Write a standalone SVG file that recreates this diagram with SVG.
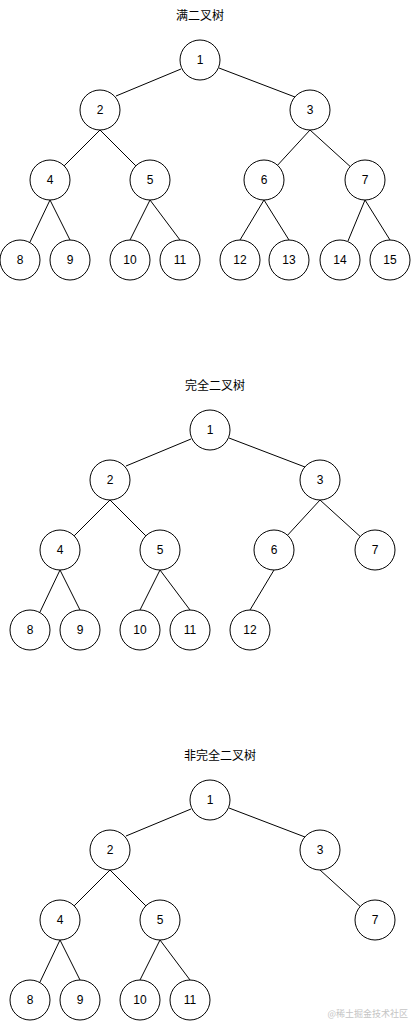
<svg xmlns="http://www.w3.org/2000/svg" width="411" height="1021" viewBox="0 0 411 1021">
<style>
.n circle{fill:#fff;stroke:#000;stroke-width:1}
.n text{font-family:"Liberation Sans",Arial,sans-serif;font-size:12px;text-anchor:middle;fill:#000}
.e line{stroke:#000;stroke-width:1}
.t{font-family:"Noto Sans CJK SC","Noto Sans",sans-serif;font-size:12px;fill:#000}
.w{font-family:"Noto Sans CJK SC",sans-serif;font-size:9px;fill:#c4c4c4;text-anchor:end}
</style>
<rect width="411" height="1021" fill="#fff"/>
<text class="t" x="176" y="19.5">满二叉树</text>
<text class="t" x="185" y="389.5">完全二叉树</text>
<text class="t" x="184" y="759.5">非完全二叉树</text>

<g id="connectors" class="e">
  <g id="t1-edges">
    <line x1="181" y1="69" x2="116" y2="96"/>
    <line x1="219" y1="68" x2="295" y2="97"/>
    <line x1="100" y1="130" x2="64.1" y2="165.9"/>
    <line x1="100" y1="130" x2="135.9" y2="165.9"/>
    <line x1="310" y1="130" x2="277.5" y2="165.3"/>
    <line x1="310" y1="130" x2="350.2" y2="166.5"/>
    <line x1="50" y1="200" x2="30" y2="242"/>
    <line x1="50" y1="200" x2="70" y2="240"/>
    <line x1="150" y1="200" x2="130" y2="240"/>
    <line x1="150" y1="200" x2="180" y2="240"/>
    <line x1="264" y1="200" x2="240" y2="240"/>
    <line x1="264" y1="200" x2="289" y2="240"/>
    <line x1="365" y1="200" x2="348" y2="241"/>
    <line x1="365" y1="200" x2="390" y2="240"/>
  </g>
  <g id="t2-edges" transform="translate(10,370)">
    <line x1="181" y1="69" x2="116" y2="96"/>
    <line x1="219" y1="68" x2="295" y2="97"/>
    <line x1="100" y1="130" x2="64.1" y2="165.9"/>
    <line x1="100" y1="130" x2="135.9" y2="165.9"/>
    <line x1="310" y1="130" x2="277.5" y2="165.3"/>
    <line x1="310" y1="130" x2="350.2" y2="166.5"/>
    <line x1="50" y1="200" x2="30" y2="242"/>
    <line x1="50" y1="200" x2="70" y2="240"/>
    <line x1="150" y1="200" x2="130" y2="240"/>
    <line x1="150" y1="200" x2="180" y2="240"/>
    <line x1="264" y1="200" x2="240" y2="240"/>
  </g>
  <g id="t3-edges" transform="translate(10,740)">
    <line x1="181" y1="69" x2="116" y2="96"/>
    <line x1="219" y1="68" x2="295" y2="97"/>
    <line x1="100" y1="130" x2="64.1" y2="165.9"/>
    <line x1="100" y1="130" x2="135.9" y2="165.9"/>
    <line x1="310" y1="130" x2="350.2" y2="166.5"/>
    <line x1="50" y1="200" x2="30" y2="242"/>
    <line x1="50" y1="200" x2="70" y2="240"/>
    <line x1="150" y1="200" x2="130" y2="240"/>
    <line x1="150" y1="200" x2="180" y2="240"/>
  </g>
</g>

<g id="tree1">
  <g id="t1-n1" class="n"><circle cx="200" cy="60" r="20"/><text x="200" y="64">1</text></g>
  <g id="t1-n2" class="n"><circle cx="100" cy="110" r="20"/><text x="100" y="114">2</text></g>
  <g id="t1-n3" class="n"><circle cx="310" cy="110" r="20"/><text x="310" y="114">3</text></g>
  <g id="t1-n4" class="n"><circle cx="50" cy="180" r="20"/><text x="50" y="184">4</text></g>
  <g id="t1-n5" class="n"><circle cx="150" cy="180" r="20"/><text x="150" y="184">5</text></g>
  <g id="t1-n6" class="n"><circle cx="264" cy="180" r="20"/><text x="264" y="184">6</text></g>
  <g id="t1-n7" class="n"><circle cx="365" cy="180" r="20"/><text x="365" y="184">7</text></g>
  <g id="t1-n8" class="n"><circle cx="20" cy="260" r="20"/><text x="20" y="264">8</text></g>
  <g id="t1-n9" class="n"><circle cx="70" cy="260" r="20"/><text x="70" y="264">9</text></g>
  <g id="t1-n10" class="n"><circle cx="130" cy="260" r="20"/><text x="130" y="264">10</text></g>
  <g id="t1-n11" class="n"><circle cx="180" cy="260" r="20"/><text x="180" y="264">11</text></g>
  <g id="t1-n12" class="n"><circle cx="240" cy="260" r="20"/><text x="240" y="264">12</text></g>
  <g id="t1-n13" class="n"><circle cx="289" cy="260" r="20"/><text x="289" y="264">13</text></g>
  <g id="t1-n14" class="n"><circle cx="340" cy="260" r="20"/><text x="340" y="264">14</text></g>
  <g id="t1-n15" class="n"><circle cx="390" cy="260" r="20"/><text x="390" y="264">15</text></g>
</g>

<g id="tree2" transform="translate(10,370)">
  <g id="t2-n1" class="n"><circle cx="200" cy="60" r="20"/><text x="200" y="64">1</text></g>
  <g id="t2-n2" class="n"><circle cx="100" cy="110" r="20"/><text x="100" y="114">2</text></g>
  <g id="t2-n3" class="n"><circle cx="310" cy="110" r="20"/><text x="310" y="114">3</text></g>
  <g id="t2-n4" class="n"><circle cx="50" cy="180" r="20"/><text x="50" y="184">4</text></g>
  <g id="t2-n5" class="n"><circle cx="150" cy="180" r="20"/><text x="150" y="184">5</text></g>
  <g id="t2-n6" class="n"><circle cx="264" cy="180" r="20"/><text x="264" y="184">6</text></g>
  <g id="t2-n7" class="n"><circle cx="365" cy="180" r="20"/><text x="365" y="184">7</text></g>
  <g id="t2-n8" class="n"><circle cx="20" cy="260" r="20"/><text x="20" y="264">8</text></g>
  <g id="t2-n9" class="n"><circle cx="70" cy="260" r="20"/><text x="70" y="264">9</text></g>
  <g id="t2-n10" class="n"><circle cx="130" cy="260" r="20"/><text x="130" y="264">10</text></g>
  <g id="t2-n11" class="n"><circle cx="180" cy="260" r="20"/><text x="180" y="264">11</text></g>
  <g id="t2-n12" class="n"><circle cx="240" cy="260" r="20"/><text x="240" y="264">12</text></g>
</g>

<g id="tree3" transform="translate(10,740)">
  <g id="t3-n1" class="n"><circle cx="200" cy="60" r="20"/><text x="200" y="64">1</text></g>
  <g id="t3-n2" class="n"><circle cx="100" cy="110" r="20"/><text x="100" y="114">2</text></g>
  <g id="t3-n3" class="n"><circle cx="310" cy="110" r="20"/><text x="310" y="114">3</text></g>
  <g id="t3-n4" class="n"><circle cx="50" cy="180" r="20"/><text x="50" y="184">4</text></g>
  <g id="t3-n5" class="n"><circle cx="150" cy="180" r="20"/><text x="150" y="184">5</text></g>
  <g id="t3-n7" class="n"><circle cx="365" cy="180" r="20"/><text x="365" y="184">7</text></g>
  <g id="t3-n8" class="n"><circle cx="20" cy="260" r="20"/><text x="20" y="264">8</text></g>
  <g id="t3-n9" class="n"><circle cx="70" cy="260" r="20"/><text x="70" y="264">9</text></g>
  <g id="t3-n10" class="n"><circle cx="130" cy="260" r="20"/><text x="130" y="264">10</text></g>
  <g id="t3-n11" class="n"><circle cx="180" cy="260" r="20"/><text x="180" y="264">11</text></g>
</g>

<text class="w" x="408" y="1016.5">@稀土掘金技术社区</text>
</svg>
